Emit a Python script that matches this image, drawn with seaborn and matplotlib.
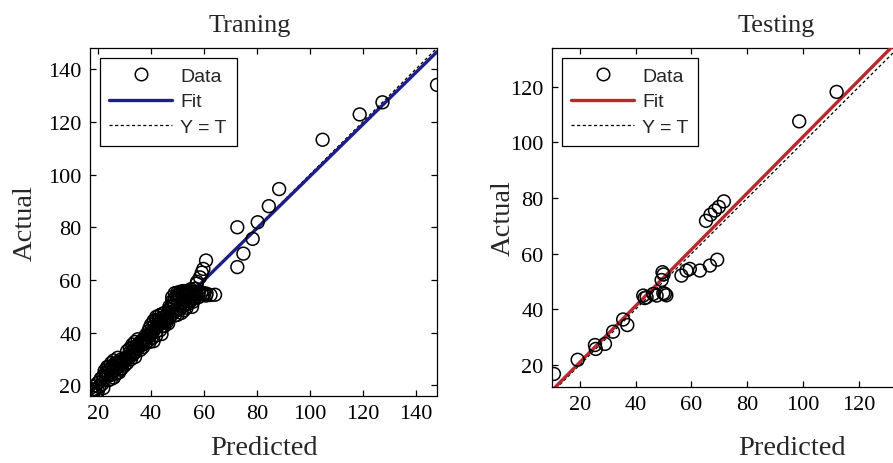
import numpy as np
import pandas as pd
import seaborn as sns
import matplotlib.pyplot as plt
from matplotlib.lines import Line2D

# =================================================================
# 1. Data
# =================================================================
train_pred = [17.5, 18.5, 19, 20, 20.5, 21.5, 19.5, 22, 18,
              22, 23, 24, 23.5, 25, 24.5, 26, 25.5, 27, 26.5, 28, 27.5, 29, 28.5, 27, 26,
              29.5, 30, 31, 30.5, 25, 22.5, 23.5,
              31.5, 32, 33, 33.5, 34, 34.5, 35, 35.5, 36, 36.5, 37, 33, 32.5, 34, 31,
              37.5, 38, 38.5, 39, 40, 39.5, 40.5, 41, 41.5, 42, 42.5, 43, 43.5, 44, 44.5,
              45, 45.5, 46, 40.5, 42, 43.5, 44, 41, 39.5, 45, 46.5,
              46.5, 47, 47.5, 48, 48.5, 49, 49, 49.5, 50, 50.5, 51, 51.5, 52, 52.5, 53,
              53.5, 54, 55, 56, 57, 58, 59, 60, 61, 60.8, 62.5, 64.2, 51, 52, 53, 54, 55,
              56, 53.5, 52.5, 51.5, 50, 55.5,
              55, 56.7, 57.3, 57.4, 58.5, 59.2, 59.8, 60.8,
              72.6, 74.9, 72.6, 78.4, 80.3, 84.5, 88.4, 104.8, 118.8, 127.4, 148,
              # dense part of the cloud
              18, 19, 20, 21, 22, 23, 24, 25, 26, 27, 28, 29, 24, 25, 26, 27.5, 28, 29, 30,
              31, 32, 33, 34, 35, 36, 37, 32, 33, 34, 35, 36, 37, 38,
              38, 39, 40, 41, 42, 43, 44, 45, 46, 47, 40, 41, 42, 43, 44, 45, 39, 42, 44, 46,
              47, 48, 48, 49, 50, 51, 52, 53, 54, 55, 56, 57, 58, 59, 60, 49, 50, 51, 52,
              53, 54, 55, 56, 57, 58, 48, 49]
train_actual = [17, 17.5, 18.5, 18, 19.5, 20.5, 16.5, 19, 19.5,
                22, 23, 22, 24.5, 24, 26, 25.5, 27.5, 26.5, 28.5, 27.5, 29, 28, 26, 24.5, 23,
                29.5, 27.5, 28.5, 30.5, 22.5, 25.5, 27,
                31, 32.5, 31.5, 33.5, 32.5, 35, 34, 36, 35, 37, 35.8, 34.5, 30, 30.8, 33,
                37.5, 39, 37.8, 40.5, 39.5, 41.8, 42, 40.8, 43.5, 44.8, 43, 45, 44, 45.5, 44.8,
                46, 45, 46.5, 38, 39, 41, 39.5, 36.8, 36.5, 42.5, 43.5,
                47.5, 49, 48, 50, 51.5, 50.5, 53, 54, 52.5, 54.5, 53.5, 55, 54, 55, 54.5,
                55.2, 54.5, 55, 54.6, 55, 54.7, 55, 54.5, 54.8, 54.1, 54.3, 54.4, 50, 51.5, 52.5,
                51, 52, 51.8, 49.5, 48.5, 47.5, 46.8, 49.8,
                56.5, 56.7, 58.6, 59.3, 61, 62.8, 64.2, 67.4,
                64.9, 70, 80, 75.6, 81.9, 88, 94.5, 113.2, 122.8, 127.4, 134,
                18.5, 20, 21, 22.5, 23.5, 25, 24, 25, 27, 28, 29, 30, 27, 28.5, 29.5, 30.5, 25, 26.5, 29,
                30, 31, 33, 34, 35, 36, 37, 34, 35.5, 36.5, 37.5, 33.5, 34.5, 36,
                38, 39, 40, 41, 42, 43, 44, 44, 45, 46, 43, 44.5, 46, 46.5, 47, 47.5, 37, 40.5, 42.5, 44,
                50, 52, 53.5, 55, 55.2, 55.5, 55.8, 55.8, 55.5, 55.8, 55.5, 55.6, 55.5, 55.3, 55, 48, 49,
                49, 50, 51, 52, 53, 53, 53.5, 53.5, 47, 46.5]

test_pred = [10.7, 19.2, 25.4, 25.7, 29, 31.9, 35.5, 37, 42.7, 43.2, 43.9, 46.3, 47.5,
             49.3, 49.6, 50, 50.5, 51, 49.9, 56.4, 58.2, 59.4, 63, 66.6, 69.2,
             65.2, 66.8, 68.4, 69.8, 71.6, 98.6, 112]
test_actual = [16.7, 21.8, 27.1, 25.7, 27.5, 31.9, 36.3, 34.3, 44.9, 44, 44.3, 45.5, 44.9,
               50.5, 53.3, 52.5, 45.5, 45, 45.8, 52.1, 53.9, 54.5, 53.9, 55.7, 57.8,
               71.8, 74, 75.5, 76.8, 78.8, 107.6, 118.2]

# fit coefficients (Actual = slope * Predicted + intercept)
train_fit = (0.985, 0.8)
test_fit = (1.015, 0.6)

# =================================================================
# 2. Style
# =================================================================
sns.set_theme(style="ticks")
plt.rcParams["font.family"] = ["Liberation Serif", "DejaVu Serif"]
plt.rcParams["axes.linewidth"] = 0.9
plt.rcParams["xtick.direction"] = "in"
plt.rcParams["ytick.direction"] = "in"

fig = plt.figure(figsize=(8.93, 4.64), dpi=100)
ax_tr = fig.add_axes([0.1008, 0.1444, 0.3886, 0.75])
ax_te = fig.add_axes([0.6181, 0.1638, 0.5375, 0.7306])

panels = [
    (ax_tr, "Traning", train_pred, train_actual, train_fit, "#1e1e86",
     (17, 148), (16, 148), np.arange(20, 141, 20), np.arange(20, 141, 20), 0.461, -0.150, -0.112),
    (ax_te, "Testing", test_pred, test_actual, test_fit, "#b8282d",
     (10, 182), (12, 134), np.arange(20, 121, 20), np.arange(20, 121, 20), 0.467, -0.075, -0.142),
]

# =================================================================
# 3. Plotting
# =================================================================
for ax, title, pred, actual, fit, color, xlim, ylim, xt, yt, tx, ylx, xly in panels:
    df = pd.DataFrame({"Predicted": pred, "Actual": actual})
    xs = np.array(xlim, dtype=float)

    # Y = T reference line
    sns.lineplot(x=xs, y=xs, ax=ax, color="black", linewidth=0.9,
                 linestyle=(0, (2.5, 2)), zorder=2)
    # regression fit
    sns.lineplot(x=xs, y=fit[0] * xs + fit[1], ax=ax, color=color,
                 linewidth=2.4, zorder=3)
    # data points
    sns.scatterplot(data=df, x="Predicted", y="Actual", ax=ax, marker="o",
                    s=85, facecolor="none", edgecolor="black", linewidth=1.1, zorder=4)

    ax.set_xlim(*xlim)
    ax.set_ylim(*ylim)
    ax.set_xticks(xt)
    ax.set_yticks(yt)
    ax.tick_params(top=True, right=True, length=4, width=0.9, labelsize=16,
                   pad=6, colors="black")
    for sp in ax.spines.values():
        sp.set_color("black")

    ax.set_title(title, fontsize=19, x=tx, pad=12)
    ax.set_xlabel("Predicted", fontsize=20.5)
    ax.set_ylabel("Actual", fontsize=20.5)
    ax.yaxis.set_label_coords(ylx, 0.5)
    ax.xaxis.set_label_coords(0.5, xly)

    handles = [
        Line2D([], [], marker="o", linestyle="none", markerfacecolor="none",
               markeredgecolor="black", markersize=9, markeredgewidth=1.1),
        Line2D([], [], color=color, linewidth=2.4),
        Line2D([], [], color="black", linewidth=0.9, linestyle=(0, (2.5, 2))),
    ]
    leg = ax.legend(handles, ["Data", "Fit", "Y = T"], loc="upper left",
                    prop={"family": "Liberation Sans", "size": 14},
                    frameon=True, fancybox=False, edgecolor="black",
                    framealpha=1, handlelength=3.2, handletextpad=0.45,
                    labelspacing=0.4, borderpad=0.5, borderaxespad=0.5)
    leg.get_frame().set_linewidth(0.9)

fig.savefig("out.png", dpi=100)
